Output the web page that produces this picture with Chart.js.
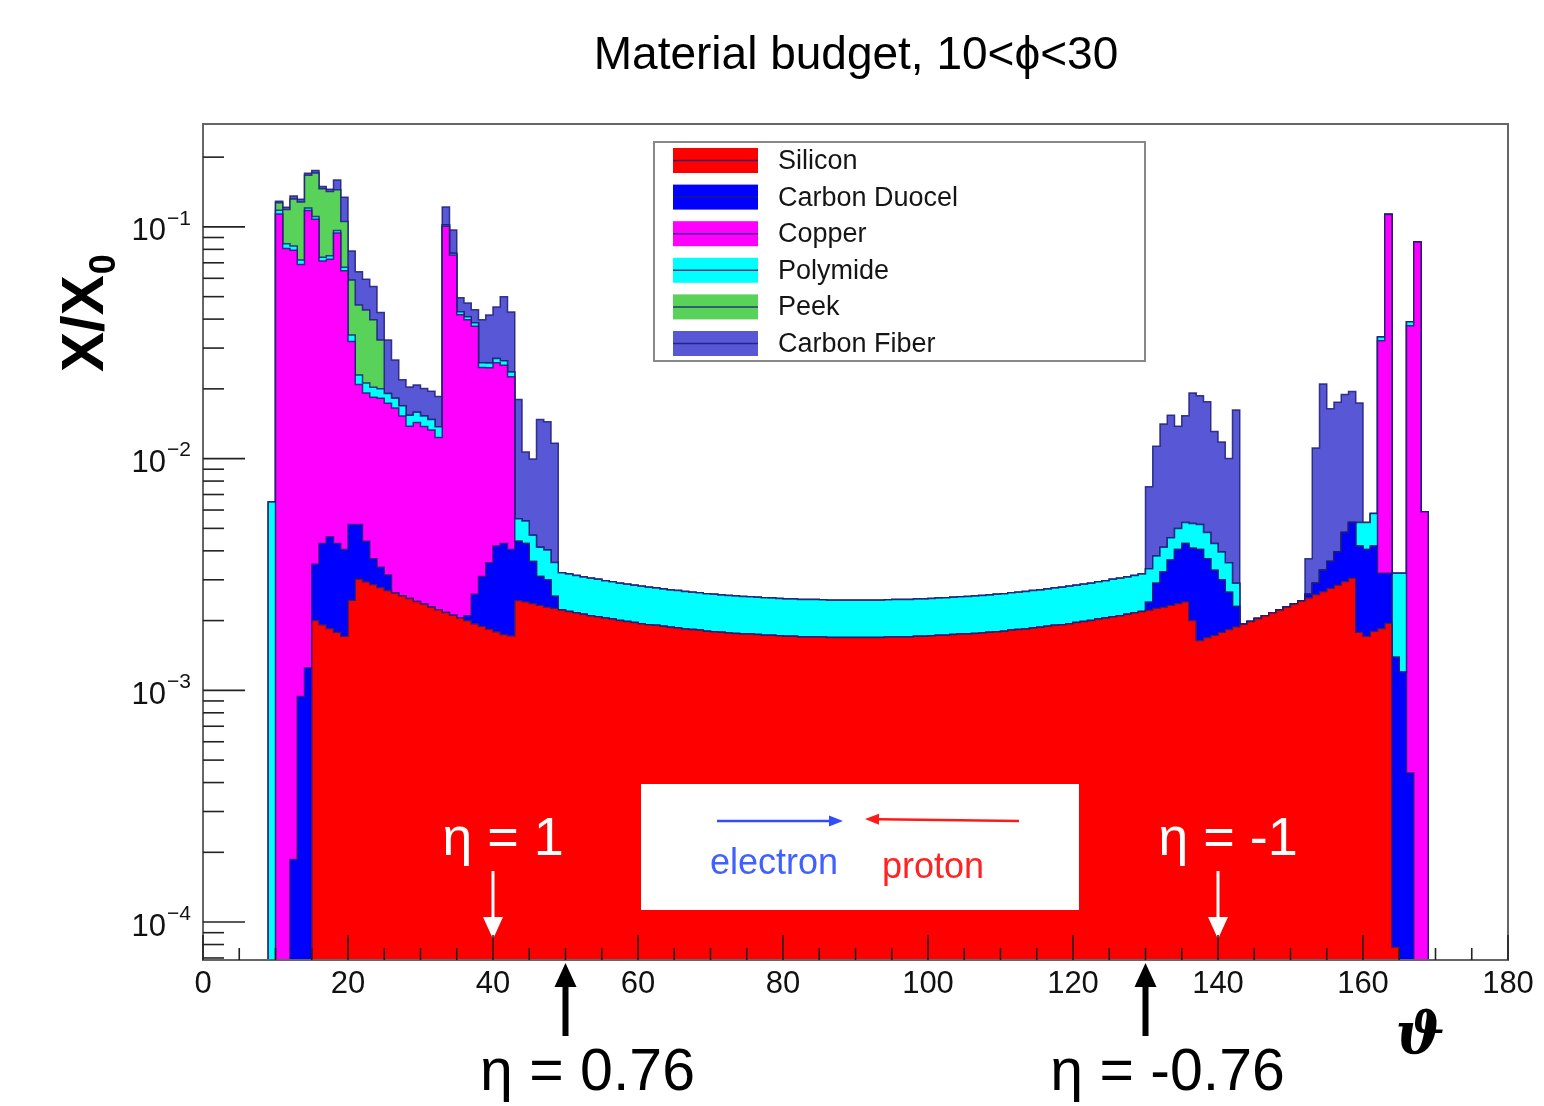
<!DOCTYPE html>
<html>
<head>
<meta charset="utf-8">
<title>Material budget</title>
<script src="https://cdn.jsdelivr.net/npm/chart.js@4.4.1/dist/chart.umd.min.js"></script>
<style>
  html, body { margin: 0; padding: 0; background: #fff; }
  #wrap { width: 1544px; height: 1106px; }
</style>
</head>
<body>
<div id="wrap"><canvas id="budgetChart" width="1544" height="1106"></canvas></div>
<script>
// X/X0 per 1 degree bin of theta (0..180)
const NBINS = 180;

// Silicon, bins 15..164
const siliconStart = 15;
const silicon = [
  2.00e-3, 1.92e-3, 1.85e-3, 1.78e-3, 1.71e-3, 2.45e-3, 3.02e-3, 2.94e-3, 2.86e-3, 2.78e-3,
  2.70e-3, 2.63e-3, 2.56e-3, 2.49e-3, 2.42e-3, 2.36e-3, 2.29e-3, 2.23e-3, 2.17e-3, 2.11e-3,
  2.05e-3, 2.00e-3, 1.94e-3, 1.89e-3, 1.84e-3, 1.79e-3, 1.74e-3, 1.72e-3, 2.44e-3, 2.41e-3,
  2.37e-3, 2.33e-3, 2.29e-3, 2.26e-3, 2.22e-3, 2.19e-3, 2.16e-3, 2.13e-3, 2.10e-3, 2.08e-3,
  2.05e-3, 2.03e-3, 2.00e-3, 1.98e-3, 1.96e-3, 1.94e-3, 1.92e-3, 1.91e-3, 1.89e-3, 1.87e-3,
  1.86e-3, 1.84e-3, 1.83e-3, 1.82e-3, 1.80e-3, 1.79e-3, 1.78e-3, 1.77e-3, 1.76e-3, 1.75e-3,
  1.75e-3, 1.74e-3, 1.73e-3, 1.73e-3, 1.72e-3, 1.71e-3, 1.71e-3, 1.70e-3, 1.70e-3, 1.70e-3,
  1.70e-3, 1.69e-3, 1.69e-3, 1.69e-3, 1.69e-3, 1.69e-3, 1.69e-3, 1.69e-3, 1.69e-3, 1.70e-3,
  1.70e-3, 1.70e-3, 1.70e-3, 1.71e-3, 1.71e-3, 1.72e-3, 1.73e-3, 1.73e-3, 1.74e-3, 1.75e-3,
  1.75e-3, 1.76e-3, 1.77e-3, 1.78e-3, 1.79e-3, 1.80e-3, 1.82e-3, 1.83e-3, 1.84e-3, 1.86e-3,
  1.87e-3, 1.89e-3, 1.91e-3, 1.92e-3, 1.94e-3, 1.96e-3, 1.98e-3, 2.00e-3, 2.03e-3, 2.05e-3,
  2.08e-3, 2.10e-3, 2.13e-3, 2.16e-3, 2.19e-3, 2.22e-3, 2.26e-3, 2.29e-3, 2.33e-3, 2.37e-3,
  2.41e-3, 2.00e-3, 1.64e-3, 1.69e-3, 1.73e-3, 1.78e-3, 1.83e-3, 1.88e-3, 1.93e-3, 1.98e-3,
  2.04e-3, 2.10e-3, 2.16e-3, 2.22e-3, 2.29e-3, 2.36e-3, 2.43e-3, 2.51e-3, 2.59e-3, 2.67e-3,
  2.76e-3, 2.85e-3, 2.95e-3, 3.05e-3, 1.78e-3, 1.71e-3, 1.80e-3, 1.85e-3, 1.95e-3, 7.8e-5
];

// Carbon Duocel, bins 12..48 and 130..166
const duocelForwardStart = 12;
const duocelForward = [
  1.86e-4, 9.4e-4, 1.25e-3, 1.50e-3, 2.38e-3, 2.75e-3, 2.52e-3, 2.34e-3, 2.75e-3, 2.18e-3,
  1.46e-3, 8.4e-4, 6.2e-4, 4.5e-4, 0, 0, 0, 0, 0, 0,
  0, 0, 0, 0, 1.0e-4, 6.6e-4, 1.21e-3, 1.71e-3, 2.41e-3, 2.56e-3,
  2.33e-3, 1.96e-3, 1.89e-3, 1.23e-3, 7.7e-4, 7.1e-4, 2.9e-4
];
const duocelBackwardStart = 130;
const duocelBackward = [
  1.8e-4, 6.4e-4, 9.6e-4, 1.32e-3, 1.68e-3, 1.89e-3, 2.10e-3, 2.41e-3, 2.01e-3, 1.57e-3,
  1.22e-3, 8.2e-4, 4.2e-4, 0, 0, 0, 0, 0, 0, 0,
  0, 0, 9e-5, 3.1e-4, 6.3e-4, 8.4e-4, 1.10e-3, 1.85e-3, 2.25e-3, 2.42e-3,
  2.34e-3, 2.40e-3, 1.35e-3, 1.25e-3, 1.31e-3, 1.20e-3, 4.4e-4
];

// Copper, bins 10..42 and 162..168
const copperForwardStart = 10;
const copperForward = [
  0.1138, 0.0807, 0.0791, 0.0678, 0.1163, 0.1045, 0.0670, 0.0679, 0.0897, 0.0607,
  0.0268, 0.0157, 0.0148, 0.0147, 0.0148, 0.0142, 0.0139, 0.0127, 0.0113, 0.0119,
  0.0114, 0.0110, 0.0101, 0.0984, 0.0736, 0.0397, 0.0376, 0.0347, 0.0216, 0.0211,
  0.0217, 0.0210, 0.0185
];
const copperBackwardStart = 162;
const copperBackward = [0.0291, 0.1098, 0, 0, 0.0370, 0.0860, 0.0059];

// Polymide, bins 9..142 and 159..166
const polymideForwardStart = 9;
const polymideForward = [
  6.5e-3,
  4.17e-3, 3.81e-3, 3.51e-3, 3.26e-3, 3.04e-3, 2.84e-3, 2.68e-3, 2.53e-3, 2.40e-3, 2.28e-3,
  2.17e-3, 2.07e-3, 1.99e-3, 1.91e-3, 1.83e-3, 1.77e-3, 1.70e-3, 1.65e-3, 1.59e-3, 1.54e-3,
  1.50e-3, 1.45e-3, 1.41e-3, 1.38e-3, 1.34e-3, 1.31e-3, 1.28e-3, 1.25e-3, 1.22e-3, 1.19e-3,
  1.17e-3, 1.15e-3, 1.12e-3, 1.10e-3, 1.08e-3, 1.07e-3, 1.05e-3, 1.03e-3, 1.01e-3, 1.00e-3,
  9.85e-4, 9.71e-4, 9.58e-4, 9.45e-4, 9.34e-4, 9.22e-4, 9.11e-4, 9.01e-4, 8.91e-4, 8.82e-4,
  8.73e-4, 8.65e-4, 8.57e-4, 8.49e-4, 8.42e-4, 8.35e-4, 8.29e-4, 8.23e-4, 8.17e-4, 8.11e-4,
  8.06e-4, 8.01e-4, 7.97e-4, 7.93e-4, 7.89e-4, 7.85e-4, 7.82e-4, 7.78e-4, 7.76e-4, 7.73e-4,
  7.71e-4, 7.68e-4, 7.67e-4, 7.65e-4, 7.64e-4, 7.62e-4, 7.61e-4, 7.61e-4, 7.60e-4, 7.60e-4,
  7.60e-4, 7.60e-4, 7.61e-4, 7.61e-4, 7.62e-4, 7.64e-4, 7.65e-4, 7.67e-4, 7.68e-4, 7.71e-4,
  7.73e-4, 7.76e-4, 7.78e-4, 7.82e-4, 7.85e-4, 7.89e-4, 7.93e-4, 7.97e-4, 8.01e-4, 8.06e-4,
  8.11e-4, 8.17e-4, 8.23e-4, 8.29e-4, 8.35e-4, 8.42e-4, 8.49e-4, 8.57e-4, 8.65e-4, 8.73e-4,
  8.82e-4, 8.91e-4, 9.01e-4, 9.11e-4, 9.22e-4, 9.34e-4, 9.45e-4, 9.58e-4, 9.71e-4, 9.85e-4,
  9.5e-4, 9.0e-4, 9.0e-4, 9.0e-4, 9.5e-4, 1.00e-3, 1.15e-3, 1.15e-3, 1.10e-3, 1.00e-3,
  9.5e-4, 9.0e-4, 6.0e-4
];
const polymideBackwardStart = 159;
const polymideBackward = [1.10e-3, 1.25e-3, 1.60e-3, 1.20e-3, 5.0e-4, 1.81e-3, 2.00e-3, 1.50e-3];

// Peek, bins 10..24
const peekStart = 10;
const peek = [
  0.0090, 0.0345, 0.0492, 0.0560, 0.0465, 0.0602, 0.0720, 0.0670, 0.0481, 0.0384,
  0.0248, 0.0231, 0.0226, 0.0194, 0.0125
];

// Carbon Fiber, bins 10..48, 130..142 and 152..159
const fiberForwardStart = 10;
const fiberForward = [
  0.0020, 0.0026, 0.0040, 0.0037, 0.0035, 0.0040, 0.0033, 0.0035, 0.0150, 0.0289,
  0.0198, 0.0180, 0.0157, 0.0156, 0.0102, 0.0134, 0.0084, 0.0050, 0.0050, 0.0049,
  0.0048, 0.0048, 0.0048, 0.0200, 0.0200, 0.0064, 0.0060, 0.0054, 0.0138, 0.0158,
  0.0181, 0.0235, 0.0193, 0.0125, 0.0053, 0.0053, 0.0106, 0.0104, 0.0081
];
const fiberBarrelStart = 130;
const fiberBarrel = [
  4.22e-3, 7.5e-3, 9.95e-3, 1.085e-2, 8.8e-3, 1.00e-2, 1.395e-2, 1.35e-2, 1.28e-2, 8.8e-3,
  7.85e-3, 6.45e-3, 1.33e-2
];
const fiberBackwardStart = 152;
const fiberBackward = [1.1e-3, 8.2e-3, 1.77e-2, 1.28e-2, 1.355e-2, 1.41e-2, 1.42e-2, 1.21e-2];

const materialNames = ['Silicon', 'Carbon Duocel', 'Copper', 'Polymide', 'Peek', 'Carbon Fiber'];
const materialColors = ['#ff0000', '#0000ff', '#ff00ff', '#00ffff', '#58d258', '#5858d6'];
const xTickLabels = [0, 20, 40, 60, 80, 100, 120, 140, 160, 180];
const yTickExponents = [-4, -3, -2, -1];
const etaInside = [{ theta: 40, text: 'η = 1' }, { theta: 140, text: 'η = -1' }];
const etaBelow = [{ theta: 50, text: 'η = 0.76' }, { theta: 130, text: 'η = -0.76' }];

const SANS = '"Liberation Sans", Arial, Helvetica, sans-serif';
const outlineColor = 'rgba(28, 28, 120, 0.85)';
const emptyBin = 1e-9; // empty bins sit far below the log axis

function histogram(...segments) {
  const bins = new Array(NBINS).fill(0);
  segments.forEach(([start, values]) => values.forEach((v, k) => { bins[start + k] = v; }));
  return bins;
}

const materialBins = [
  histogram([siliconStart, silicon]),
  histogram([duocelForwardStart, duocelForward], [duocelBackwardStart, duocelBackward]),
  histogram([copperForwardStart, copperForward], [copperBackwardStart, copperBackward]),
  histogram([polymideForwardStart, polymideForward], [polymideBackwardStart, polymideBackward]),
  histogram([peekStart, peek]),
  histogram([fiberForwardStart, fiberForward], [fiberBarrelStart, fiberBarrel], [fiberBackwardStart, fiberBackward])
];
const thetaCenters = Array.from({ length: NBINS }, (_, i) => i + 0.5);

function drawArrow(ctx, x1, y1, x2, y2, color, width, headLen, headHalf) {
  const a = Math.atan2(y2 - y1, x2 - x1);
  const bx = x2 - headLen * Math.cos(a), by = y2 - headLen * Math.sin(a);
  ctx.strokeStyle = color;
  ctx.lineWidth = width;
  ctx.beginPath(); ctx.moveTo(x1, y1); ctx.lineTo(bx, by); ctx.stroke();
  ctx.fillStyle = color;
  ctx.beginPath();
  ctx.moveTo(x2, y2);
  ctx.lineTo(bx + headHalf * Math.sin(a), by - headHalf * Math.cos(a));
  ctx.lineTo(bx - headHalf * Math.sin(a), by + headHalf * Math.cos(a));
  ctx.closePath();
  ctx.fill();
}

function segment(ctx, x1, y1, x2, y2) {
  ctx.beginPath(); ctx.moveTo(x1, y1); ctx.lineTo(x2, y2); ctx.stroke();
}

// ROOT-like frame, inside ticks, labels, legend and annotations
const rootStyle = {
  id: 'rootStyle',
  beforeDraw(chart) {
    const ctx = chart.ctx;
    ctx.save();
    ctx.fillStyle = '#fff';
    ctx.fillRect(0, 0, chart.width, chart.height);
    ctx.restore();
  },
  afterDatasetsDraw(chart) {
    const ctx = chart.ctx;
    const { left, right, top, bottom } = chart.chartArea;
    const xs = chart.scales.x, ys = chart.scales.y;
    ctx.save();

    // electron / proton box
    ctx.fillStyle = '#fff';
    ctx.fillRect(641, 784, 438, 126);
    drawArrow(ctx, 717, 821, 843, 821, '#2f4dff', 2.5, 14, 5.5);
    drawArrow(ctx, 1019, 821, 865, 819, '#ff1a1a', 2.5, 14, 5.5);
    ctx.font = `36px ${SANS}`;
    ctx.textAlign = 'left';
    ctx.textBaseline = 'alphabetic';
    ctx.fillStyle = '#4060ff';
    ctx.fillText('electron', 710, 874);
    ctx.fillStyle = '#ff2424';
    ctx.fillText('proton', 882, 878);

    // eta markers inside the plot
    ctx.font = `54px ${SANS}`;
    ctx.textAlign = 'center';
    etaInside.forEach(m => {
      const x = xs.getPixelForValue(m.theta);
      ctx.fillStyle = '#fff';
      ctx.fillText(m.text, x + 10, 855);
      drawArrow(ctx, x, 871, x, 939, '#fff', 3, 22, 10);
    });

    // frame
    ctx.strokeStyle = '#666';
    ctx.lineWidth = 2;
    ctx.strokeRect(left, top, right - left, bottom - top);

    // x ticks (major 20, minor 5), pointing inward
    ctx.strokeStyle = '#222';
    ctx.lineWidth = 1.6;
    for (let t = xs.min; t <= xs.max; t += 5) {
      const x = xs.getPixelForValue(t);
      segment(ctx, x, bottom, x, bottom - (t % 20 === 0 ? 25 : 12));
    }
    // y ticks (decades long, 2..9 short)
    const e0 = Math.floor(Math.log10(ys.min)), e1 = Math.ceil(Math.log10(ys.max));
    for (let e = e0; e <= e1; e++) {
      for (let m = 1; m <= 9; m++) {
        const v = m * Math.pow(10, e);
        if (v < ys.min || v > ys.max) continue;
        const y = ys.getPixelForValue(v);
        segment(ctx, left, y, left + (m === 1 ? 42 : 21), y);
      }
    }
    ctx.restore();
  },
  afterDraw(chart) {
    const ctx = chart.ctx;
    const xs = chart.scales.x, ys = chart.scales.y;
    ctx.save();

    // title
    ctx.fillStyle = '#000';
    ctx.font = `46px ${SANS}`;
    ctx.textAlign = 'center';
    ctx.textBaseline = 'alphabetic';
    ctx.fillText('Material budget, 10<ϕ<30', 856, 69);

    // x tick labels
    ctx.font = `31px ${SANS}`;
    ctx.textBaseline = 'middle';
    ctx.fillStyle = '#111';
    xTickLabels.forEach(t => ctx.fillText(String(t), xs.getPixelForValue(t), 984));

    // y tick labels 10^n
    yTickExponents.forEach(e => {
      const y = ys.getPixelForValue(Math.pow(10, e));
      const sup = '\u2212' + Math.abs(e);
      ctx.textAlign = 'right';
      ctx.font = `21px ${SANS}`;
      const supW = ctx.measureText(sup).width;
      ctx.fillText(sup, 191, y - 8);
      ctx.font = `31px ${SANS}`;
      ctx.fillText('10', 191 - supW - 1, y + 5);
    });

    // y axis title X/X0
    ctx.save();
    ctx.translate(103, 372);
    ctx.rotate(-Math.PI / 2);
    ctx.textAlign = 'left';
    ctx.textBaseline = 'alphabetic';
    ctx.fillStyle = '#000';
    ctx.font = `bold 60px ${SANS}`;
    ctx.fillText('X/X', 0, 0);
    const w = ctx.measureText('X/X').width;
    ctx.font = `bold 36px ${SANS}`;
    ctx.fillText('0', w + 1, 12);
    ctx.restore();

    // x axis title
    ctx.font = 'bold italic 58px "DejaVu Serif", serif';
    ctx.textAlign = 'center';
    ctx.textBaseline = 'alphabetic';
    ctx.fillStyle = '#000';
    ctx.fillText('ϑ', 1420, 1053);

    // eta markers below the axis
    ctx.font = `59px ${SANS}`;
    etaBelow.forEach(m => {
      const x = xs.getPixelForValue(m.theta);
      drawArrow(ctx, x, 1036, x, 963, '#000', 6, 24, 11);
      ctx.fillStyle = '#000';
      ctx.fillText(m.text, x + 22, 1090);
    });

    // legend
    const lx = 654, ly = 142, lw = 491, lh = 219;
    ctx.fillStyle = '#fff';
    ctx.fillRect(lx, ly, lw, lh);
    ctx.strokeStyle = '#888';
    ctx.lineWidth = 2;
    ctx.strokeRect(lx, ly, lw, lh);
    chart.data.datasets.forEach((ds, i) => {
      const cy = 160.5 + i * 36.6;
      ctx.fillStyle = ds.backgroundColor;
      ctx.fillRect(673, cy - 12.5, 85, 25);
      ctx.strokeStyle = outlineColor;
      ctx.lineWidth = 1.5;
      segment(ctx, 673, cy, 758, cy);
      ctx.fillStyle = '#151515';
      ctx.font = `27px ${SANS}`;
      ctx.textAlign = 'left';
      ctx.textBaseline = 'middle';
      ctx.fillText(ds.label, 778, cy + 1);
    });
    ctx.restore();
  }
};

new Chart(document.getElementById('budgetChart'), {
  type: 'line',
  data: {
    datasets: materialBins.map((bins, i) => ({
      label: materialNames[i],
      data: bins.map((v, k) => ({ x: thetaCenters[k], y: v > 0 ? v : emptyBin })),
      stepped: 'middle',
      fill: i === 0 ? 'start' : '-1',
      backgroundColor: materialColors[i],
      borderColor: outlineColor,
      borderWidth: 1.5,
      pointRadius: 0,
      pointHoverRadius: 0
    }))
  },
  options: {
    responsive: false,
    animation: false,
    devicePixelRatio: 1,
    events: [],
    layout: { padding: { left: 203, right: 36, top: 124, bottom: 146 } },
    scales: {
      x: { type: 'linear', min: 0, max: 180, display: false },
      y: { type: 'logarithmic', min: 6.86e-5, max: 0.278, stacked: true, display: false }
    },
    plugins: {
      legend: { display: false },
      tooltip: { enabled: false }
    }
  },
  plugins: [rootStyle]
});
</script>
</body>
</html>
